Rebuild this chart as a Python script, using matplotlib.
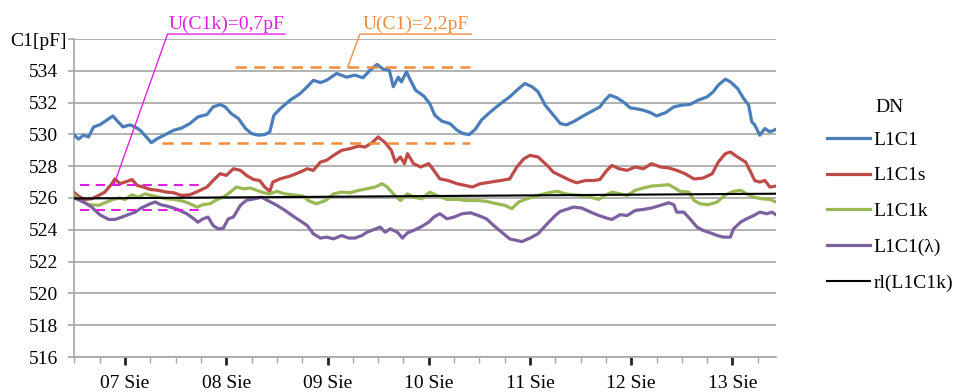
import matplotlib.pyplot as plt
from matplotlib.ticker import MultipleLocator, FixedLocator

plt.rcParams['font.family'] = ['Liberation Serif', 'DejaVu Serif']

# time axis in days (7 = 07 Sie 00:00)
day_labels = ['07 Sie', '08 Sie', '09 Sie', '10 Sie', '11 Sie', '12 Sie', '13 Sie']
day_ticks = [7, 8, 9, 10, 11, 12, 13]

t_c1 = [6.50, 6.54, 6.59, 6.64, 6.69, 6.75, 6.82, 6.88, 6.93, 6.98, 7.05, 7.10, 7.15, 7.21,
        7.26, 7.32, 7.40, 7.48, 7.56, 7.64, 7.72, 7.81, 7.87, 7.94, 7.99, 8.05, 8.12, 8.19,
        8.25, 8.32, 8.38, 8.43, 8.47, 8.53, 8.63, 8.73, 8.80, 8.86, 8.93, 8.99, 9.09, 9.19,
        9.27, 9.35, 9.42, 9.49, 9.55, 9.61, 9.65, 9.70, 9.73, 9.78, 9.82, 9.87, 9.95, 10.01,
        10.06, 10.13, 10.21, 10.28, 10.34, 10.40, 10.46, 10.52, 10.61, 10.71, 10.80, 10.89,
        10.95, 11.02, 11.08, 11.15, 11.22, 11.30, 11.36, 11.43, 11.51, 11.60, 11.69, 11.74,
        11.79, 11.86, 11.92, 11.99, 12.06, 12.12, 12.19, 12.25, 12.34, 12.42, 12.50, 12.58,
        12.66, 12.75, 12.81, 12.86, 12.93, 12.98, 13.05, 13.11, 13.16, 13.19, 13.22, 13.27,
        13.32, 13.37, 13.43]
L1C1 = [529.95, 529.7, 529.95, 529.84, 530.47, 530.6, 530.9, 531.16, 530.8, 530.47, 530.6,
        530.47, 530.26, 529.84, 529.48, 529.74, 529.99, 530.26, 530.4, 530.68, 531.1, 531.25,
        531.73, 531.88, 531.73, 531.3, 531.0, 530.37, 530.05, 529.95, 529.99, 530.16, 531.2,
        531.6, 532.15, 532.57, 533.0, 533.4, 533.26, 533.4, 533.83, 533.6, 533.73, 533.56,
        534.04, 534.4, 534.1, 534.04, 533.0, 533.6, 533.3, 533.94, 533.4, 532.78, 532.42,
        531.94, 531.2, 530.83, 530.68, 530.26, 530.05, 529.99, 530.32, 530.9, 531.42, 531.94,
        532.36, 532.89, 533.2, 533.0, 532.68, 531.84, 531.3, 530.68, 530.6, 530.8, 531.1,
        531.42, 531.73, 532.15, 532.47, 532.3, 532.05, 531.67, 531.6, 531.52, 531.37, 531.16,
        531.37, 531.73, 531.84, 531.88, 532.15, 532.36, 532.68, 533.1, 533.47, 533.3, 532.89,
        532.26, 531.84, 530.8, 530.6, 529.95, 530.37, 530.16, 530.32]

t_c1s = [6.50, 6.54, 6.60, 6.67, 6.74, 6.80, 6.87, 6.90, 6.95, 7.00, 7.07, 7.12, 7.18, 7.25,
         7.33, 7.41, 7.48, 7.56, 7.64, 7.72, 7.81, 7.87, 7.94, 8.00, 8.07, 8.14, 8.20, 8.27,
         8.33, 8.38, 8.43, 8.46, 8.53, 8.63, 8.73, 8.80, 8.86, 8.93, 8.99, 9.06, 9.14, 9.22,
         9.31, 9.37, 9.44, 9.50, 9.57, 9.63, 9.67, 9.72, 9.76, 9.79, 9.85, 9.92, 10.00, 10.05,
         10.11, 10.19, 10.28, 10.36, 10.43, 10.51, 10.61, 10.71, 10.80, 10.87, 10.94, 11.00,
         11.08, 11.17, 11.23, 11.31, 11.40, 11.46, 11.55, 11.63, 11.69, 11.76, 11.81, 11.88,
         11.96, 12.04, 12.12, 12.20, 12.29, 12.37, 12.45, 12.53, 12.62, 12.71, 12.80, 12.86,
         12.93, 12.98, 13.05, 13.13, 13.18, 13.22, 13.27, 13.32, 13.37, 13.43]
L1C1s = [526.33, 526.12, 525.91, 525.95, 526.16, 526.37, 526.9, 527.2, 526.9, 527.0, 527.16,
         526.79, 526.69, 526.54, 526.48, 526.37, 526.33, 526.16, 526.2, 526.42, 526.69, 527.1,
         527.53, 527.42, 527.84, 527.74, 527.42, 527.16, 527.1, 526.69, 526.42, 527.0, 527.2,
         527.38, 527.63, 527.84, 527.74, 528.26, 528.37, 528.68, 529.0, 529.1, 529.27, 529.2,
         529.48, 529.84, 529.48, 529.0, 528.26, 528.58, 528.16, 528.79, 528.16, 527.95, 528.16,
         527.74, 527.2, 527.1, 526.9, 526.79, 526.69, 526.9, 527.0, 527.1, 527.2, 527.95,
         528.47, 528.68, 528.58, 528.05, 527.63, 527.38, 527.1, 526.96, 527.1, 527.1, 527.16,
         527.74, 528.05, 527.84, 527.74, 527.95, 527.84, 528.16, 527.95, 527.89, 527.74,
         527.53, 527.2, 527.25, 527.53, 528.26, 528.79, 528.89, 528.58, 528.26, 527.63, 527.1,
         527.0, 527.1, 526.69, 526.75]

t_c1k = [6.50, 6.57, 6.65, 6.74, 6.82, 6.88, 6.95, 7.00, 7.07, 7.13, 7.20, 7.26, 7.33, 7.41,
         7.49, 7.58, 7.64, 7.71, 7.77, 7.84, 7.91, 7.97, 8.04, 8.10, 8.17, 8.24, 8.30, 8.37,
         8.43, 8.50, 8.58, 8.66, 8.76, 8.81, 8.89, 8.98, 9.06, 9.14, 9.22, 9.31, 9.39, 9.47,
         9.54, 9.59, 9.65, 9.72, 9.79, 9.85, 9.93, 10.01, 10.08, 10.18, 10.28, 10.38, 10.48,
         10.57, 10.67, 10.75, 10.82, 10.89, 10.97, 11.08, 11.18, 11.27, 11.35, 11.43, 11.51,
         11.60, 11.68, 11.74, 11.81, 11.89, 11.96, 12.04, 12.12, 12.20, 12.29, 12.37, 12.43,
         12.48, 12.57, 12.62, 12.68, 12.76, 12.85, 12.93, 13.01, 13.08, 13.14, 13.21, 13.29,
         13.37, 13.43]
L1C1k = [526.16, 525.79, 525.58, 525.54, 525.75, 525.91, 526.0, 525.91, 526.2, 526.05, 526.26,
         526.16, 526.05, 525.95, 525.91, 525.79, 525.64, 525.43, 525.58, 525.64, 525.91, 526.05,
         526.37, 526.69, 526.58, 526.63, 526.48, 526.33, 526.26, 526.42, 526.26, 526.2, 526.12,
         525.84, 525.64, 525.84, 526.26, 526.37, 526.33, 526.48, 526.58, 526.69, 526.9, 526.69,
         526.26, 525.84, 526.26, 526.05, 525.95, 526.37, 526.16, 525.91, 525.91, 525.84,
         525.84, 525.79, 525.64, 525.54, 525.33, 525.75, 525.95, 526.16, 526.33, 526.42,
         526.26, 526.2, 526.16, 526.05, 525.91, 526.16, 526.37, 526.26, 526.16, 526.48, 526.63,
         526.75, 526.79, 526.84, 526.63, 526.42, 526.37, 525.84, 525.64, 525.58, 525.75, 526.2,
         526.42, 526.48, 526.26, 526.05, 525.95, 525.91, 525.75]

t_lam = [6.50, 6.59, 6.67, 6.75, 6.84, 6.90, 6.97, 7.03, 7.10, 7.16, 7.25, 7.30, 7.35, 7.41,
         7.48, 7.54, 7.61, 7.68, 7.72, 7.77, 7.82, 7.87, 7.92, 7.97, 8.02, 8.07, 8.14, 8.20,
         8.28, 8.35, 8.41, 8.50, 8.58, 8.66, 8.75, 8.80, 8.86, 8.93, 8.99, 9.06, 9.14, 9.21,
         9.27, 9.34, 9.39, 9.46, 9.52, 9.57, 9.62, 9.69, 9.74, 9.79, 9.85, 9.92, 10.00, 10.05,
         10.11, 10.18, 10.25, 10.33, 10.41, 10.49, 10.57, 10.66, 10.72, 10.80, 10.87, 10.92,
         11.00, 11.08, 11.17, 11.25, 11.30, 11.36, 11.43, 11.51, 11.60, 11.68, 11.76, 11.81,
         11.89, 11.96, 12.04, 12.12, 12.20, 12.29, 12.37, 12.42, 12.45, 12.52, 12.58, 12.65,
         12.71, 12.78, 12.85, 12.91, 12.98, 13.01, 13.08, 13.14, 13.21, 13.27, 13.34, 13.39,
         13.43]
L1C1_lam = [526.0, 525.75, 525.43, 524.95, 524.65, 524.65, 524.8, 524.95, 525.11, 525.37,
            525.64, 525.75, 525.58, 525.5, 525.37, 525.22, 525.01, 524.69, 524.48, 524.69,
            524.8, 524.27, 524.06, 524.1, 524.69, 524.8, 525.54, 525.86, 525.95, 526.05, 525.84,
            525.54, 525.22, 524.86, 524.48, 524.27, 523.75, 523.48, 523.54, 523.43, 523.64,
            523.48, 523.48, 523.64, 523.85, 524.02, 524.17, 523.85, 524.06, 523.85, 523.48,
            523.81, 523.96, 524.17, 524.48, 524.8, 525.01, 524.69, 524.8, 525.01, 525.07, 524.9,
            524.69, 524.17, 523.85, 523.43, 523.33, 523.26, 523.48, 523.75, 524.38, 524.9,
            525.16, 525.28, 525.43, 525.37, 525.11, 524.9, 524.73, 524.65, 524.95, 524.9,
            525.22, 525.28, 525.37, 525.54, 525.7, 525.58, 525.11, 525.11, 524.69, 524.17,
            523.96, 523.81, 523.64, 523.54, 523.54, 524.06, 524.48, 524.69, 524.9, 525.11,
            525.01, 525.11, 524.95]

# linear trend of L1C1k
t_rl = [6.50, 13.43]
rl_L1C1k = [525.97, 526.27]

# uncertainty bands drawn as dashed lines
u_c1k_x = [6.56, 7.74]
u_c1k_lo, u_c1k_hi = 525.25, 526.82
u_c1_hi_x = [8.09, 10.41]
u_c1_lo_x = [7.37, 10.41]
u_c1_lo, u_c1_hi = 529.47, 534.24

blue, red, green, purple = '#4A7EBB', '#BE4B48', '#98B954', '#7D60A0'
magenta, orange = '#E020E0', '#F08C3C'

fig = plt.figure(figsize=(9.57, 3.92), dpi=100)
ax = fig.add_axes([74 / 957, 1 - 357 / 392, (776 - 74) / 957, (357 - 39) / 392])

ax.plot(t_c1, L1C1, color=blue, lw=2.3, label='L1C1', zorder=3)
ax.plot(t_c1s, L1C1s, color=red, lw=2.3, label='L1C1s', zorder=3)
ax.plot(t_c1k, L1C1k, color=green, lw=2.3, label='L1C1k', zorder=3)
ax.plot(t_lam, L1C1_lam, color=purple, lw=2.3, label='L1C1(λ)', zorder=3)
ax.plot(t_rl, rl_L1C1k, color='black', lw=1.5, label='rl(L1C1k)', zorder=4)

dash = (0, (4.5, 3))
ax.plot(u_c1k_x, [u_c1k_hi] * 2, color=magenta, lw=1.5, ls=dash, zorder=5)
ax.plot(u_c1k_x, [u_c1k_lo] * 2, color=magenta, lw=1.5, ls=dash, zorder=5)
ax.plot(u_c1_hi_x, [u_c1_hi] * 2, color=orange, lw=1.8, ls=dash, zorder=5)
ax.plot(u_c1_lo_x, [u_c1_lo] * 2, color=orange, lw=1.8, ls=dash, zorder=5)

# callouts with underlined labels
ax.plot([6.89, 7.42, 8.58], [u_c1k_hi, 536.31, 536.31], color=magenta, lw=1.0, clip_on=False, zorder=5)
ax.text(8.0, 536.4, 'U(C1k)=0,7pF', color=magenta, fontsize=14, ha='center', va='bottom')
ax.plot([9.20, 9.32, 10.42], [u_c1_hi, 536.31, 536.31], color=orange, lw=1.0, clip_on=False, zorder=5)
ax.text(9.87, 536.4, 'U(C1)=2,2pF', color=orange, fontsize=14, ha='center', va='bottom')

ax.set_xlim(6.496, 13.43)
ax.set_ylim(516, 536)
ax.set_yticks(range(516, 537, 2))
ax.set_yticklabels([str(v) for v in range(516, 536, 2)] + [''])
ax.xaxis.set_major_locator(FixedLocator(day_ticks))
ax.set_xticklabels(day_labels)
ax.xaxis.set_minor_locator(MultipleLocator(0.25))

ax.grid(axis='y', color='#A6A6A6', lw=1.2)
ax.set_axisbelow(True)
for side in ['top', 'right']:
    ax.spines[side].set_visible(False)
ax.spines['left'].set_color('#A6A6A6')
ax.spines['bottom'].set_color('#A6A6A6')
ax.spines['left'].set_linewidth(1.2)
ax.spines['bottom'].set_linewidth(1.2)

ax.tick_params(axis='y', length=4.5, width=1.2, color='#A6A6A6', pad=7, labelsize=14)
ax.tick_params(axis='x', which='major', length=6, width=2, color='#222222', pad=7, labelsize=14)
ax.tick_params(axis='x', which='minor', length=4, width=1, color='#A6A6A6')

fig.text(10 / 957, 1 - 42 / 392, 'C1[pF]', fontsize=14, va='center', ha='left')
fig.text(875 / 957, 1 - 107 / 392, 'DN', fontsize=14, va='center', ha='left')
fig.legend(loc='upper left', bbox_to_anchor=(827 / 957, 1 - 131 / 392), frameon=False,
           fontsize=14, handlelength=2.2, handletextpad=0.2, labelspacing=0.93,
           borderpad=0, borderaxespad=0)

fig.savefig('out.png', dpi=100)
